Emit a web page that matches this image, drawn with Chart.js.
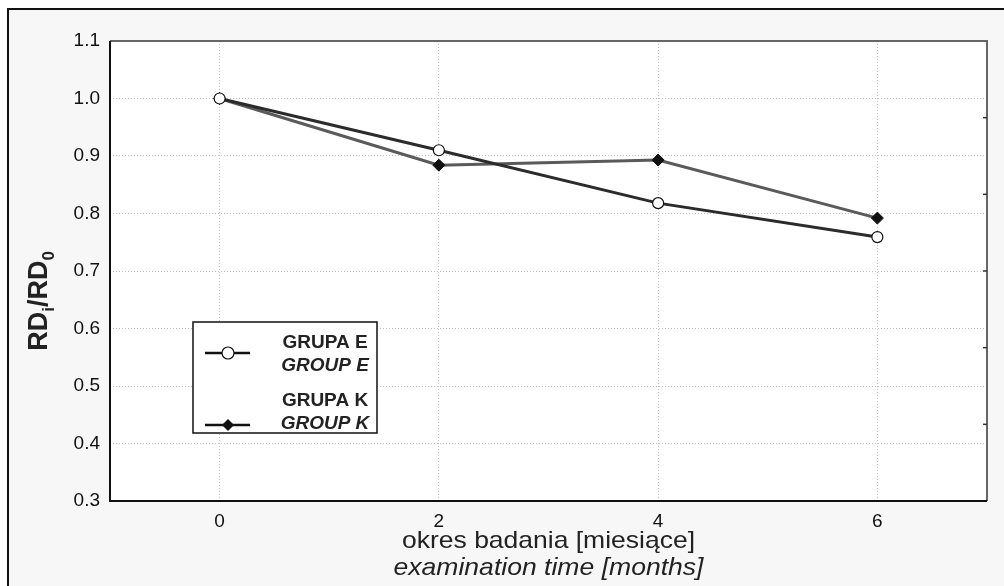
<!DOCTYPE html>
<html>
<head>
<meta charset="utf-8">
<script src="https://cdn.jsdelivr.net/npm/chart.js@4.4.0/dist/chart.umd.min.js"></script>
<style>
  html, body { margin: 0; padding: 0; background: #fff; }
  #wrap { position: relative; width: 1004px; height: 586px; }
</style>
</head>
<body>
<div id="wrap"><canvas id="chart" width="1004" height="586"></canvas></div>
<script>
// dane
const months = [0, 2, 4, 6];
const groupE = [1.0, 0.91, 0.818, 0.759];
const groupK = [1.0, 0.884, 0.893, 0.792];
const xTicks = [0, 2, 4, 6];
const yTicks = [0.3, 0.4, 0.5, 0.6, 0.7, 0.8, 0.9, 1.0, 1.1];
const legendE = ['GRUPA E', 'GROUP E'];
const legendK = ['GRUPA K', 'GROUP K'];
const xTitle = ['okres badania [miesiące]', 'examination time [months]'];

const FONT = '"Liberation Sans", Arial, sans-serif';

function toPoints(vals) {
  return months.map((m, i) => ({ x: m, y: vals[i] }));
}

// tekst rozciagniety do zadanej szerokosci
function fitText(ctx, txt, cx, y, width) {
  const w = ctx.measureText(txt).width;
  ctx.save();
  ctx.translate(cx, y);
  ctx.scale(width / w, 1);
  ctx.fillText(txt, 0, 0);
  ctx.restore();
}

// tlo, ramka, tytuly osi i legenda
const decor = {
  id: 'decor',
  beforeDraw(chart) {
    const ctx = chart.ctx;
    const a = chart.chartArea;
    ctx.save();
    ctx.fillStyle = '#fff';
    ctx.fillRect(0, 0, chart.width, chart.height);
    ctx.fillStyle = '#f7f7f7';
    ctx.fillRect(8, 9, chart.width - 8, chart.height - 9);
    ctx.strokeStyle = '#111';
    ctx.lineWidth = 2;
    ctx.beginPath();
    ctx.moveTo(8, chart.height);
    ctx.lineTo(8, 9);
    ctx.lineTo(chart.width, 9);
    ctx.stroke();
    ctx.fillStyle = '#fff';
    ctx.fillRect(a.left, a.top, a.right - a.left, a.bottom - a.top);
    ctx.restore();
  },
  afterDraw(chart) {
    const ctx = chart.ctx;
    const a = chart.chartArea;
    ctx.save();
    // ramka obszaru wykresu
    ctx.lineWidth = 2;
    ctx.strokeStyle = '#666';
    ctx.beginPath();
    ctx.moveTo(a.left, a.top);
    ctx.lineTo(a.right, a.top);
    ctx.lineTo(a.right, a.bottom);
    ctx.stroke();
    ctx.strokeStyle = '#111';
    ctx.beginPath();
    ctx.moveTo(a.left, a.top);
    ctx.lineTo(a.left, a.bottom);
    ctx.lineTo(a.right, a.bottom);
    ctx.stroke();
    // drobne kreski po prawej stronie
    ctx.lineWidth = 1.5;
    ctx.strokeStyle = '#333';
    for (let k = 1; k <= 5; k++) {
      const y = a.top + k * (a.bottom - a.top) / 6;
      ctx.beginPath();
      ctx.moveTo(a.right - 4, y);
      ctx.lineTo(a.right, y);
      ctx.stroke();
    }

    // tytul osi X
    const cx = (a.left + a.right) / 2;
    ctx.fillStyle = '#222';
    ctx.textAlign = 'center';
    ctx.textBaseline = 'alphabetic';
    ctx.font = '24px ' + FONT;
    fitText(ctx, xTitle[0], cx, 548, 293);
    ctx.font = 'italic 24px ' + FONT;
    fitText(ctx, xTitle[1], cx, 575, 310);

    // tytul osi Y: RD_i/RD_0
    ctx.save();
    ctx.translate(47, 301);
    ctx.rotate(-Math.PI / 2);
    ctx.textAlign = 'left';
    ctx.textBaseline = 'alphabetic';
    const big = 'bold 27px ' + FONT;
    const small = 'bold 17px ' + FONT;
    const parts = [['RD', big, 0], ['i', small, 7], ['/RD', big, 0], ['0', small, 7]];
    let w = 0;
    parts.forEach(p => { ctx.font = p[1]; w += ctx.measureText(p[0]).width; });
    let x = -w / 2;
    ctx.fillStyle = '#222';
    parts.forEach(p => {
      ctx.font = p[1];
      ctx.fillText(p[0], x, p[2]);
      x += ctx.measureText(p[0]).width;
    });
    ctx.restore();

    // legenda
    ctx.fillStyle = '#fff';
    ctx.fillRect(193, 322, 184, 111);
    ctx.strokeStyle = '#111';
    ctx.lineWidth = 1.5;
    ctx.strokeRect(193, 322, 184, 111);

    ctx.lineWidth = 2.5;
    ctx.strokeStyle = '#111';
    ctx.beginPath();
    ctx.moveTo(205, 353); ctx.lineTo(250, 353);
    ctx.moveTo(205, 425); ctx.lineTo(250, 425);
    ctx.stroke();
    ctx.beginPath();
    ctx.arc(228, 353, 6, 0, Math.PI * 2);
    ctx.fillStyle = '#fff';
    ctx.fill();
    ctx.lineWidth = 1.2;
    ctx.stroke();
    ctx.beginPath();
    ctx.moveTo(228, 419); ctx.lineTo(234, 425); ctx.lineTo(228, 431); ctx.lineTo(222, 425);
    ctx.closePath();
    ctx.fillStyle = '#111';
    ctx.fill();

    ctx.fillStyle = '#222';
    ctx.textAlign = 'center';
    ctx.textBaseline = 'middle';
    ctx.font = 'bold 19px ' + FONT;
    ctx.fillText(legendE[0], 325, 343);
    ctx.fillText(legendK[0], 325, 401);
    ctx.font = 'italic bold 19px ' + FONT;
    ctx.fillText(legendE[1], 325, 366);
    ctx.fillText(legendK[1], 325, 424);
    ctx.restore();
  }
};

new Chart(document.getElementById('chart'), {
  type: 'line',
  data: {
    datasets: [
      {
        label: legendE[0],
        data: toPoints(groupE),
        borderColor: '#2b2b2b',
        borderWidth: 3,
        pointStyle: 'circle',
        pointRadius: 5.5,
        pointBackgroundColor: '#fff',
        pointBorderColor: '#111',
        pointBorderWidth: 1.2,
        tension: 0
      },
      {
        label: legendK[0],
        data: toPoints(groupK),
        borderColor: '#5a5a5a',
        borderWidth: 3,
        pointStyle: 'rectRot',
        pointRadius: 6,
        pointBackgroundColor: '#111',
        pointBorderColor: '#111',
        pointBorderWidth: 1,
        tension: 0
      }
    ]
  },
  options: {
    responsive: false,
    animation: false,
    devicePixelRatio: 1,
    layout: { padding: { left: 0, right: 17, top: 41, bottom: 0 } },
    plugins: {
      legend: { display: false },
      tooltip: { enabled: false }
    },
    scales: {
      x: {
        type: 'linear',
        min: -1,
        max: 7,
        afterBuildTicks: s => { s.ticks = xTicks.map(v => ({ value: v })); },
        afterFit: s => { s.height = 85; },
        grid: { color: '#c4c4c4', lineWidth: 1, drawTicks: false },
        border: { display: false, dash: [1, 2] },
        ticks: {
          padding: 9,
          color: '#111',
          font: { family: FONT, size: 19 },
          callback: v => String(v)
        }
      },
      y: {
        min: 0.3,
        max: 1.1,
        afterBuildTicks: s => { s.ticks = yTicks.map(v => ({ value: v })); },
        afterFit: s => { s.width = 110; },
        grid: { color: '#c4c4c4', lineWidth: 1, drawTicks: false },
        border: { display: false, dash: [1, 2] },
        ticks: {
          padding: 10,
          color: '#111',
          font: { family: FONT, size: 19 },
          callback: v => Number(v).toFixed(1)
        }
      }
    }
  },
  plugins: [decor]
});
</script>
</body>
</html>
